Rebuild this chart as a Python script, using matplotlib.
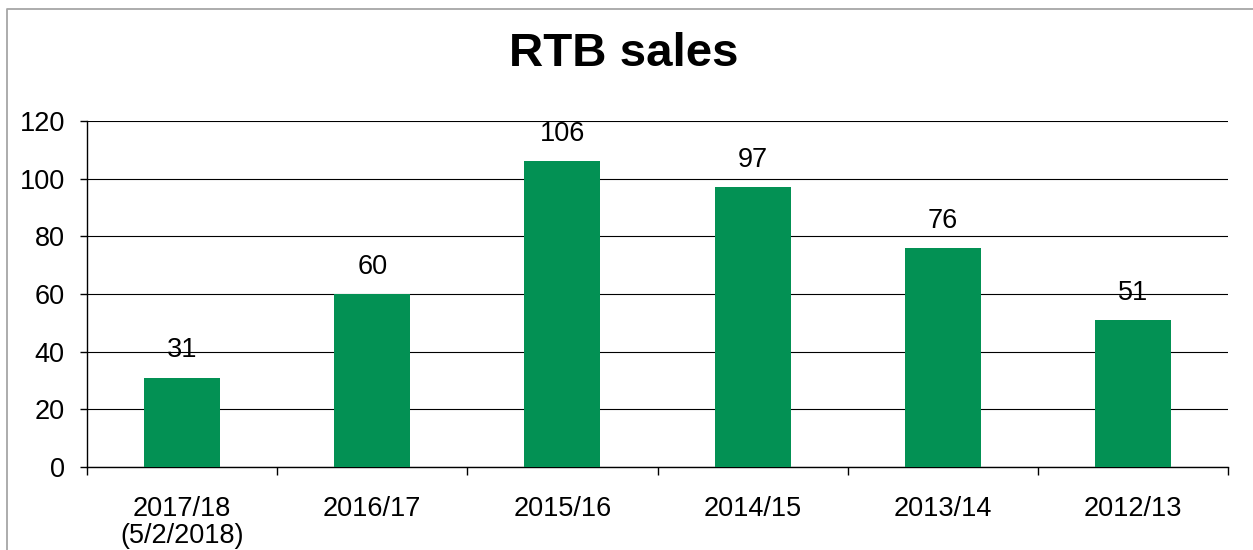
import matplotlib
matplotlib.use("Agg")
import matplotlib.pyplot as plt
from matplotlib.lines import Line2D

categories = ["2017/18\n(5/2/2018)", "2016/17", "2015/16", "2014/15", "2013/14", "2012/13"]
sales = [31, 60, 106, 97, 76, 51]
yticks = [0, 20, 40, 60, 80, 100, 120]
title = "RTB sales"

plt.rcParams['font.family'] = ['Liberation Sans', 'DejaVu Sans']

W, H = 1253, 550
fig = plt.figure(figsize=(W / 100, H / 100), dpi=100)
ax = fig.add_axes([87 / W, (550 - 467) / H, (1228 - 87) / W, (467 - 121) / H])

x = list(range(len(categories)))
ax.bar(x, sales, width=0.4, color="#039154", zorder=3)
ax.set_xlim(-0.5, len(categories) - 0.5)
ax.set_ylim(0, 120)
ax.set_yticks(yticks)
ax.yaxis.grid(True, color="#000000", linewidth=0.8, zorder=0)
ax.set_axisbelow(True)

for s in ["top", "right"]:
    ax.spines[s].set_visible(False)
for s in ["left", "bottom"]:
    ax.spines[s].set_color("#000000")
    ax.spines[s].set_linewidth(1.0)

fs = 19.5
ax.set_xticks(x)
ax.set_xticklabels(categories, fontsize=fs, linespacing=1.02)
ax.set_xticks([i - 0.5 for i in range(len(categories) + 1)], minor=True)
ax.tick_params(axis="x", which="major", length=0, pad=21)
ax.tick_params(axis="x", which="minor", length=5.5, width=1, direction="out")
ax.tick_params(axis="y", length=5, width=1, direction="out", labelsize=fs, pad=11)

for xi, v in zip(x, sales):
    ax.annotate(str(v), (xi, v), xytext=(0, 14.5), textcoords="offset points",
                ha="center", va="baseline", fontsize=fs, zorder=4)

fig.text(624 / W, 1 - 66 / H, title, ha="center", va="baseline",
         fontsize=34.2, fontweight="bold")

fig.add_artist(Line2D([7 / W, 7 / W, 1], [0, 1 - 9 / H, 1 - 9 / H],
                      transform=fig.transFigure, color="#a6a6a6", linewidth=1.3))

fig.savefig("out.png", dpi=100)
